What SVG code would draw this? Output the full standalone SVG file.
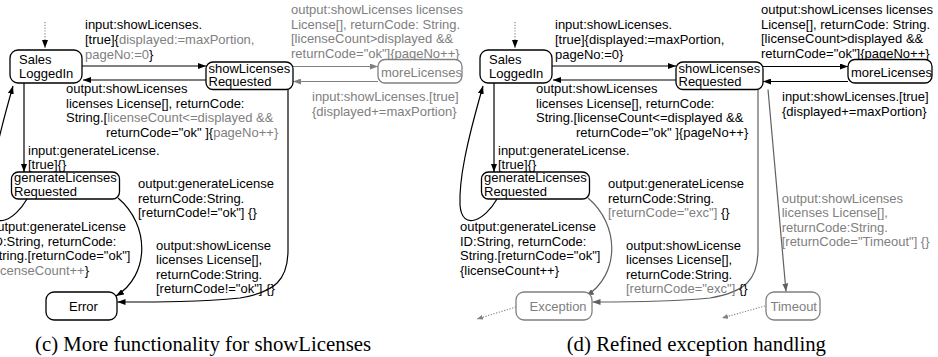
<svg xmlns="http://www.w3.org/2000/svg" width="938" height="357" viewBox="0 0 938 357">
<style>
.n rect{fill:#fff;stroke:#000;stroke-width:1.3}
.n.gr rect{stroke:#808080}
text{font-family:"Liberation Sans",Arial,sans-serif;font-size:13px;fill:#000}
.g{fill:#808080}
.cap{font-family:"Liberation Serif","Times New Roman",serif;font-size:20.8px}
.e{fill:none;stroke:#000;stroke-width:1.2;marker-end:url(#ah)}
.e.ge{stroke:#808080;marker-end:url(#ahg)}
.e.de{stroke:#606060;marker-end:url(#ahd)}
.e.dot{stroke:#808080;stroke-width:1.1;stroke-dasharray:1.2 1.6}
.e.dg{marker-end:url(#ahs)}
</style>
<defs>
<marker id="ah" markerWidth="8" markerHeight="6" refX="8" refY="3" orient="auto" markerUnits="userSpaceOnUse"><path d="M0,0L8,3L0,6z" fill="#000"/></marker>
<marker id="ahg" markerWidth="8" markerHeight="6" refX="8" refY="3" orient="auto" markerUnits="userSpaceOnUse"><path d="M0,0L8,3L0,6z" fill="#808080"/></marker>
<marker id="ahd" markerWidth="8" markerHeight="6" refX="8" refY="3" orient="auto" markerUnits="userSpaceOnUse"><path d="M0,0L8,3L0,6z" fill="#606060"/></marker>
<marker id="ahs" markerWidth="6" markerHeight="5" refX="6" refY="2.5" orient="auto" markerUnits="userSpaceOnUse"><path d="M0,0L6,2.5L0,5z" fill="#808080"/></marker>
</defs>

<!-- ===== (c) ===== -->
<g id="diagram-c">
<g id="c-connectors">
<path class="e dot" d="M45,22 L45,48"/>
<path class="e" d="M82,66 L206,66"/>
<path class="e" d="M206,80 L83,80"/>
<path class="e ge" d="M293,66.5 L378,66.5"/>
<path class="e ge" d="M378,81.5 L293,81.5"/>
<path class="e" d="M24,83 L24,172"/>
<path class="e" d="M27,199 C15,220 -8,232 -10,205 C-11,180 -4,145 13,86"/>
<path class="e" d="M118,198 C150,225 150,275 116,296"/>
<path class="e" d="M288,89.5 L288,250 C288,280 275,292 240,298 C200,302 160,302 117.5,302"/>
</g>
<g id="c-labels">
<text x="85" y="29">input:showLicenses.</text>
<text x="85" y="44"><tspan>[true]{</tspan><tspan class="g">displayed:=maxPortion,</tspan></text>
<text x="85" y="58.5"><tspan class="g">pageNo:=0</tspan><tspan>}</tspan></text>

<text x="66" y="93">output:showLicenses</text>
<text x="66" y="107.5">licenses License[], returnCode:</text>
<text x="66" y="122"><tspan>String.[</tspan><tspan class="g">licenseCount&lt;=displayed &amp;&amp;</tspan></text>
<text x="106" y="136.5"><tspan>returnCode="ok" ]{</tspan><tspan class="g">pageNo++}</tspan></text>

<text class="g" x="291" y="14">output:showLicenses licenses</text>
<text class="g" x="291" y="28.5">License[], returnCode: String.</text>
<text class="g" x="291" y="43">[licenseCount&gt;displayed &amp;&amp;</text>
<text class="g" x="291" y="57.5">returnCode="ok"]{pageNo++}</text>

<text class="g" x="312" y="101">input:showLicenses.[true]</text>
<text class="g" x="312" y="115.5">{displayed+=maxPortion}</text>

<text x="28" y="155">input:generateLicense.</text>
<text x="28" y="168.5">[true]{}</text>

<text x="-10" y="231">output:generateLicense</text>
<text x="-10" y="245.5">ID:String, returnCode:</text>
<text x="-10" y="260">String.[returnCode="ok"]</text>
<text x="-10" y="274.5"><tspan>{</tspan><tspan class="g">licenseCount++</tspan><tspan>}</tspan></text>

<text x="138" y="188">output:generateLicense</text>
<text x="138" y="202.5">returnCode:String.</text>
<text x="138" y="217">[returnCode!="ok"] {}</text>

<text x="156" y="249.5">output:showLicense</text>
<text x="156" y="264">licenses License[],</text>
<text x="156" y="278.5">returnCode:String.</text>
<text x="156" y="293">[returnCode!="ok"] {}</text>
</g>
<g id="c-SalesLoggedIn" class="n"><rect x="10" y="50" width="72" height="33" rx="8"/><text x="19" y="63.5">Sales</text><text x="19" y="77.5">LoggedIn</text></g>
<g id="c-showLicensesRequested" class="n"><rect x="206" y="62" width="87" height="27.5" rx="7"/><text x="208.5" y="72.5">showLicenses</text><text x="208.5" y="86">Requested</text></g>
<g id="c-moreLicenses" class="n gr"><rect x="378" y="59.5" width="84" height="23.5" rx="7"/><text class="g" x="381" y="77">moreLicenses</text></g>
<g id="c-generateLicensesRequested" class="n"><rect x="11.5" y="172" width="108" height="27" rx="7"/><text x="14" y="182">generateLicenses</text><text x="14" y="196">Requested</text></g>
<g id="c-Error" class="n"><rect x="46" y="292" width="71" height="28" rx="8"/><text x="69" y="311">Error</text></g>
<text class="cap" x="35" y="351">(c) More functionality for showLicenses</text>
</g>

<!-- ===== (d) ===== -->
<g id="diagram-d" transform="translate(470,0)">
<g id="d-connectors">
<path class="e dot" d="M45,22 L45,48"/>
<path class="e" d="M82,66 L206,66"/>
<path class="e" d="M206,80 L83,80"/>
<path class="e" d="M293,66.5 L378,66.5"/>
<path class="e" d="M378,81.5 L293,81.5"/>
<path class="e" d="M24,83 L24,172"/>
<path class="e" d="M27,199 C15,220 -8,232 -10,205 C-11,180 -4,145 13,86"/>
<path class="e de" d="M118,198 C150,225 150,275 116,296"/>
<path class="e de" d="M288,89.5 L288,250 C288,280 275,292 240,298 C200,302 160,302 122.5,302"/>
<path class="e de" d="M298,89.5 L316,291.5"/>
<path class="e dot dg" d="M46,307 L7,319"/>
<path class="e dot dg" d="M295,306 L252,318"/>
</g>
<g id="d-labels">
<text x="85" y="29">input:showLicenses.</text>
<text x="85" y="44">[true]{displayed:=maxPortion,</text>
<text x="85" y="58.5">pageNo:=0}</text>

<text x="66" y="93">output:showLicenses</text>
<text x="66" y="107.5">licenses License[], returnCode:</text>
<text x="66" y="122">String.[licenseCount&lt;=displayed &amp;&amp;</text>
<text x="106" y="136.5">returnCode="ok" ]{pageNo++}</text>

<text x="291" y="14">output:showLicenses licenses</text>
<text x="291" y="28.5">License[], returnCode: String.</text>
<text x="291" y="43">[licenseCount&gt;displayed &amp;&amp;</text>
<text x="291" y="57.5">returnCode="ok"]{pageNo++}</text>

<text x="312" y="101">input:showLicenses.[true]</text>
<text x="312" y="115.5">{displayed+=maxPortion}</text>

<text x="28" y="155">input:generateLicense.</text>
<text x="28" y="168.5">[true]{}</text>

<text x="-10" y="231">output:generateLicense</text>
<text x="-10" y="245.5">ID:String, returnCode:</text>
<text x="-10" y="260">String.[returnCode="ok"]</text>
<text x="-10" y="274.5">{licenseCount++}</text>

<text x="138" y="188">output:generateLicense</text>
<text x="138" y="202.5">returnCode:String.</text>
<text x="138" y="217"><tspan class="g">[returnCode="exc"]</tspan><tspan> {}</tspan></text>

<text x="156" y="249.5">output:showLicense</text>
<text x="156" y="264">licenses License[],</text>
<text x="156" y="278.5">returnCode:String.</text>
<text x="156" y="293"><tspan class="g">[returnCode="exc"]</tspan><tspan> {}</tspan></text>

<text class="g" x="311.7" y="202.5">output:showLicenses</text>
<text class="g" x="311.7" y="217">licenses License[],</text>
<text class="g" x="311.7" y="231.5">returnCode:String.</text>
<text class="g" x="311.7" y="246">[returnCode="Timeout"] {}</text>
</g>
<g id="d-SalesLoggedIn" class="n"><rect x="10" y="50" width="72" height="33" rx="8"/><text x="19" y="63.5">Sales</text><text x="19" y="77.5">LoggedIn</text></g>
<g id="d-showLicensesRequested" class="n"><rect x="206" y="62" width="87" height="27.5" rx="7"/><text x="208.5" y="72.5">showLicenses</text><text x="208.5" y="86">Requested</text></g>
<g id="d-moreLicenses" class="n"><rect x="378" y="59.5" width="84" height="23.5" rx="7"/><text x="381" y="77">moreLicenses</text></g>
<g id="d-generateLicensesRequested" class="n"><rect x="11.5" y="172" width="108" height="27" rx="7"/><text x="14" y="182">generateLicenses</text><text x="14" y="196">Requested</text></g>
<g id="d-Exception" class="n gr"><rect x="46" y="292" width="76" height="28" rx="8"/><text class="g" x="59.5" y="311">Exception</text></g>
<g id="d-Timeout" class="n gr"><rect x="296" y="292" width="54" height="28" rx="8"/><text class="g" x="300.5" y="311">Timeout</text></g>
<text class="cap" x="96.7" y="351">(d) Refined exception handling</text>
</g>
</svg>
